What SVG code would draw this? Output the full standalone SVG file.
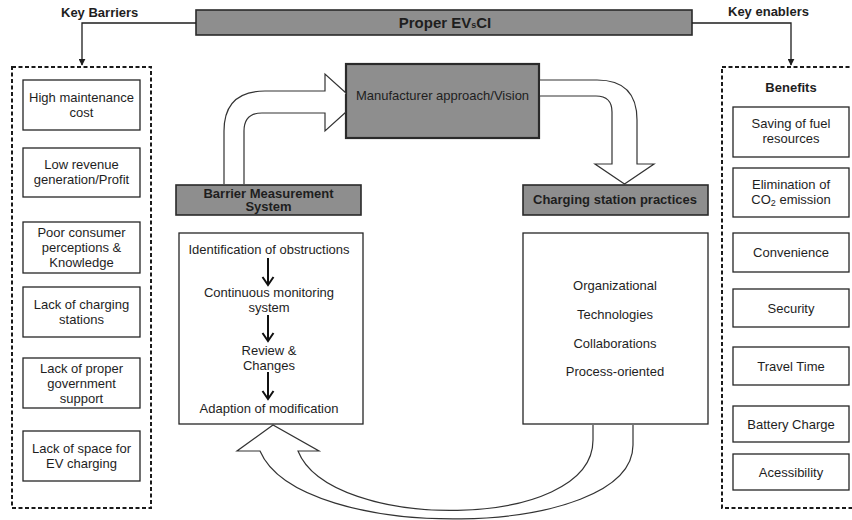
<svg xmlns="http://www.w3.org/2000/svg" width="852" height="520" viewBox="0 0 852 520">
  <defs>
    <marker id="tri" viewBox="0 0 10 10" refX="9" refY="5" markerWidth="7" markerHeight="7" markerUnits="userSpaceOnUse" orient="auto">
      <path d="M0,0 L10,5 L0,10 Z" fill="#1e1e1e"/>
    </marker>
    <style>
      text { font-family: "Liberation Sans", Arial, sans-serif; fill: #1e1e1e; }
      .t { font-size: 13px; text-anchor: middle; }
      .b { font-weight: bold; }
      .gray { fill: #8e8e8e; stroke: #2a2a2a; stroke-width: 1.6; }
      .box { fill: #ffffff; stroke: #262626; stroke-width: 1.3; }
      .dash { fill: none; stroke: #1a1a1a; stroke-width: 2; stroke-dasharray: 4 2.5; }
      .wire { fill: none; stroke: #1e1e1e; stroke-width: 1.3; }
      .hollow { fill: #ffffff; stroke: #333333; stroke-width: 1.2; stroke-linejoin: miter; }
      .down { fill: none; stroke: #111111; stroke-width: 2; }
    </style>
  </defs>

  <!-- headline -->
  <g id="proper-evsci">
    <rect class="gray" x="196" y="10" width="496" height="25"/>
    <text class="t b" x="445" y="28" style="font-size:15px">Proper EV<tspan style="font-size:9px">s</tspan>CI</text>
  </g>
  <g id="key-barriers-label"><text class="b" x="61" y="17" style="font-size:13px">Key Barriers</text></g>
  <g id="key-enablers-label"><text class="b" x="728" y="16" style="font-size:13px">Key enablers</text></g>

  <!-- barriers column -->
  <g id="barriers">
    <rect class="dash" x="12" y="67" width="139" height="441"/>
    <g id="b1"><rect class="box" x="23" y="80" width="117" height="50"/>
      <text class="t" x="81.5" y="102">High maintenance</text><text class="t" x="81.5" y="117">cost</text></g>
    <g id="b2"><rect class="box" x="23" y="148" width="117" height="49"/>
      <text class="t" x="81.5" y="169">Low revenue</text><text class="t" x="81.5" y="184">generation/Profit</text></g>
    <g id="b3"><rect class="box" x="23" y="222" width="117" height="51"/>
      <text class="t" x="81.5" y="237">Poor consumer</text><text class="t" x="81.5" y="252">perceptions &amp;</text><text class="t" x="81.5" y="267">Knowledge</text></g>
    <g id="b4"><rect class="box" x="23" y="287" width="117" height="50"/>
      <text class="t" x="81.5" y="309">Lack of charging</text><text class="t" x="81.5" y="324">stations</text></g>
    <g id="b5"><rect class="box" x="23" y="358" width="117" height="50"/>
      <text class="t" x="81.5" y="372.5">Lack of proper</text><text class="t" x="81.5" y="387.5">government</text><text class="t" x="81.5" y="402.5">support</text></g>
    <g id="b6"><rect class="box" x="23" y="431" width="117" height="50"/>
      <text class="t" x="81.5" y="452.5">Lack of space for</text><text class="t" x="81.5" y="467.5">EV charging</text></g>
  </g>

  <!-- enablers column -->
  <g id="enablers">
    <rect class="dash" x="722" y="67" width="134" height="441"/>
    <text class="t b" x="791" y="92">Benefits</text>
    <g id="e1"><rect class="box" x="733" y="107" width="116" height="50"/>
      <text class="t" x="791" y="128">Saving of fuel</text><text class="t" x="791" y="143">resources</text></g>
    <g id="e2"><rect class="box" x="733" y="168" width="116" height="49"/>
      <text class="t" x="791" y="189">Elimination of</text><text class="t" x="791" y="204">CO<tspan style="font-size:9px" dy="2">2</tspan><tspan dy="-2"> emission</tspan></text></g>
    <g id="e3"><rect class="box" x="733" y="233" width="116" height="39"/>
      <text class="t" x="791" y="257">Convenience</text></g>
    <g id="e4"><rect class="box" x="733" y="289" width="116" height="38"/>
      <text class="t" x="791" y="312.5">Security</text></g>
    <g id="e5"><rect class="box" x="733" y="347" width="116" height="38"/>
      <text class="t" x="791" y="370.5">Travel Time</text></g>
    <g id="e6"><rect class="box" x="733" y="406" width="116" height="36"/>
      <text class="t" x="791" y="428.5">Battery Charge</text></g>
    <g id="e7"><rect class="box" x="733" y="454" width="116" height="36"/>
      <text class="t" x="791" y="476.5">Acessibility</text></g>
  </g>

  <!-- central loop -->
  <g id="manufacturer">
    <rect class="gray" x="346" y="64" width="193" height="74" style="stroke-width:2.2"/>
    <text class="t" x="442.5" y="100">Manufacturer approach/Vision</text>
  </g>
  <g id="barrier-system">
    <rect class="gray" x="176" y="185" width="185" height="30"/>
    <text class="t b" x="268.5" y="197.5">Barrier Measurement</text>
    <text class="t b" x="268.5" y="211">System</text>
  </g>
  <g id="charging-practices">
    <rect class="gray" x="523" y="185" width="185" height="30"/>
    <text class="t b" x="615" y="204">Charging station practices</text>
  </g>
  <g id="barrier-steps">
    <rect class="box" x="179" y="233" width="184" height="191"/>
    <text class="t" x="269" y="254">Identification of obstructions</text>
    <text class="t" x="269" y="297">Continuous monitoring</text>
    <text class="t" x="269" y="312">system</text>
    <text class="t" x="269" y="355">Review &amp;</text>
    <text class="t" x="269" y="370">Changes</text>
    <text class="t" x="269" y="413">Adaption of modification</text>
  </g>
  <g id="practice-areas">
    <rect class="box" x="523" y="233" width="185" height="191"/>
    <text class="t" x="615" y="290">Organizational</text>
    <text class="t" x="615" y="319">Technologies</text>
    <text class="t" x="615" y="348">Collaborations</text>
    <text class="t" x="615" y="376">Process-oriented</text>
  </g>

  <!-- connectors -->
  <g id="connectors">
    <polyline class="wire" points="196,23 82,23 82,65" marker-end="url(#tri)"/>
    <polyline class="wire" points="692,23 791,23 791,65" marker-end="url(#tri)"/>
    <!-- block arrow: barrier system up to manufacturer (tip meets the box edge) -->
    <path class="hollow" d="M224,184 L224,131 Q224,91 265,91 L325,91 L325,74 L346,93 M346,112 L325,131 L325,113 L262,113 Q244,113 244,131 L244,184"/>
    <!-- block arrow: manufacturer down to charging station practices -->
    <path class="hollow" d="M540,80 L597,80 Q637,80 637,120 L637,164 L654,164 L624.5,184 L595,164 L612,164 L612,112 Q612,96 596,96 L540,96"/>
    <!-- block arrow: charging practices back to barrier system -->
    <path class="hollow" d="M633,425 L633,445 C633,540 300,545 260,451 L237,451 L273,425 L319,451 L298,451 C330,532 593,532 593,440 L593,425"/>
    <!-- process steps -->
    <g class="down">
      <line x1="268" y1="258" x2="268" y2="284"/><polyline points="262.5,277 268,285 273.5,277"/>
      <line x1="268" y1="315" x2="268" y2="340"/><polyline points="262.5,333 268,341 273.5,333"/>
      <line x1="268" y1="372" x2="268" y2="398"/><polyline points="262.5,391 268,399 273.5,391"/>
    </g>
  </g>
</svg>
